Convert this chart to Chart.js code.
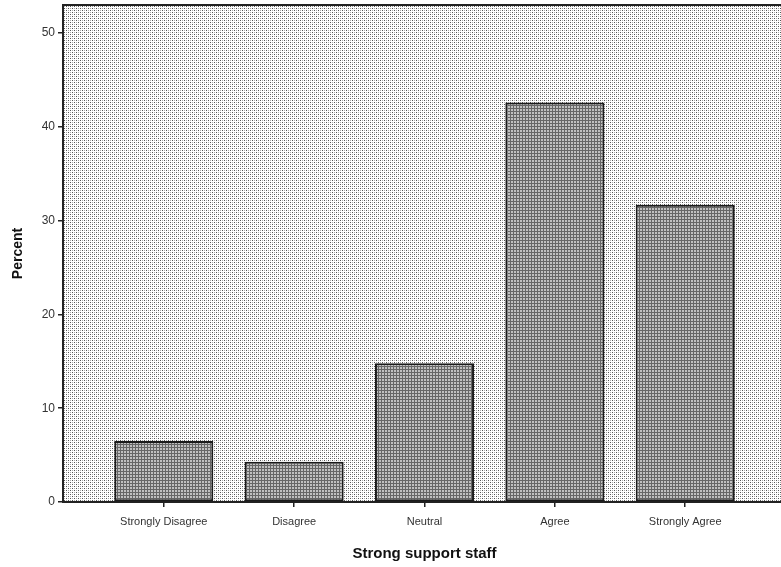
<!DOCTYPE html>
<html>
<head>
<meta charset="utf-8">
<script src="https://cdn.jsdelivr.net/npm/chart.js@4/dist/chart.umd.min.js"></script>
<style>
  html, body { margin: 0; padding: 0; background: #fff; overflow: hidden; }
  #wrap { width: 786px; height: 567px; }
</style>
</head>
<body>
<div id="wrap"><canvas id="chart" width="786" height="567"></canvas></div>
<script>
// Reference values (percent of respondents)
const categories = ['Strongly Disagree', 'Disagree', 'Neutral', 'Agree', 'Strongly Agree'];
const percents = [6.5, 4.3, 14.8, 42.6, 31.7];
const yTicks = [0, 10, 20, 30, 40, 50];

// small tiled patterns that mimic the scanned SPSS stipple fills
function makePattern(size, paint) {
  const c = document.createElement('canvas');
  c.width = size; c.height = size;
  const g = c.getContext('2d');
  paint(g);
  return document.getElementById('chart').getContext('2d').createPattern(c, 'repeat');
}

const plotFill = makePattern(4, g => {
  g.fillStyle = '#fff'; g.fillRect(0, 0, 4, 4);
  g.fillStyle = '#555'; g.fillRect(0, 0, 1, 1); g.fillRect(2, 2, 1, 1);
  g.fillStyle = '#aaa'; g.fillRect(2, 0, 1, 1); g.fillRect(0, 2, 1, 1);
});

const barFill = makePattern(3, g => {
  g.fillStyle = '#c0c0c0'; g.fillRect(0, 0, 3, 3);
  g.fillStyle = '#666'; g.fillRect(0, 0, 3, 1); g.fillRect(0, 0, 1, 3);
});

const plotBackdrop = {
  id: 'plotBackdrop',
  beforeDraw(chart) {
    const { ctx, chartArea: a } = chart;
    ctx.save();
    ctx.fillStyle = plotFill;
    ctx.fillRect(a.left, a.top, a.right - a.left, a.bottom - a.top);
    ctx.strokeStyle = '#222';
    ctx.lineWidth = 2;
    ctx.beginPath();
    ctx.moveTo(a.left, a.top);
    ctx.lineTo(a.right, a.top);
    ctx.stroke();
    ctx.restore();
  },
};

const font = 'Liberation Sans, Arial, sans-serif';

new Chart(document.getElementById('chart'), {
  type: 'bar',
  data: {
    datasets: [{
      data: percents.map((v, i) => ({ x: i, y: v })),
      backgroundColor: barFill,
      borderColor: '#1a1a1a',
      borderWidth: 2,
      borderSkipped: false,
      barPercentage: 0.76,
      categoryPercentage: 1,
    }],
  },
  options: {
    responsive: false,
    animation: false,
    layout: { padding: { top: 5, right: 0, left: 0, bottom: 0 } },
    plugins: { legend: { display: false }, tooltip: { enabled: false } },
    scales: {
      x: {
        type: 'linear',
        min: -0.773,
        max: 4.773,
        offset: false,
        afterBuildTicks: s => { s.ticks = categories.map((c, i) => ({ value: i })); },
        afterFit: s => { s.height = 65; s.paddingLeft = 0; s.paddingRight = 0; },
        ticks: {
          callback: v => categories[v],
          color: '#333',
          font: { family: font, size: 11 },
          padding: 8,
          maxRotation: 0,
          autoSkip: false,
        },
        grid: { offset: false, drawOnChartArea: false, drawTicks: true, tickLength: 5, color: '#222', lineWidth: 1.5 },
        border: { display: true, color: '#222', width: 2 },
        title: {
          display: true,
          text: 'Strong support staff',
          color: '#111',
          font: { family: font, size: 15, weight: 'bold' },
          padding: { top: 6 },
        },
      },
      y: {
        min: 0,
        max: 53,
        afterBuildTicks: s => { s.ticks = yTicks.map(v => ({ value: v })); },
        afterFit: s => { s.width = 63; s.paddingTop = 0; s.paddingBottom = 0; },
        ticks: {
          color: '#333',
          font: { family: font, size: 12 },
          padding: 3,
        },
        grid: { drawOnChartArea: false, drawTicks: true, tickLength: 5, color: '#222', lineWidth: 1.5 },
        border: { display: true, color: '#222', width: 2 },
        title: {
          display: true,
          text: 'Percent',
          color: '#111',
          font: { family: font, size: 14, weight: 'bold' },
          padding: { top: 10, bottom: 10 },
        },
      },
    },
  },
  plugins: [plotBackdrop],
});
</script>
</body>
</html>
